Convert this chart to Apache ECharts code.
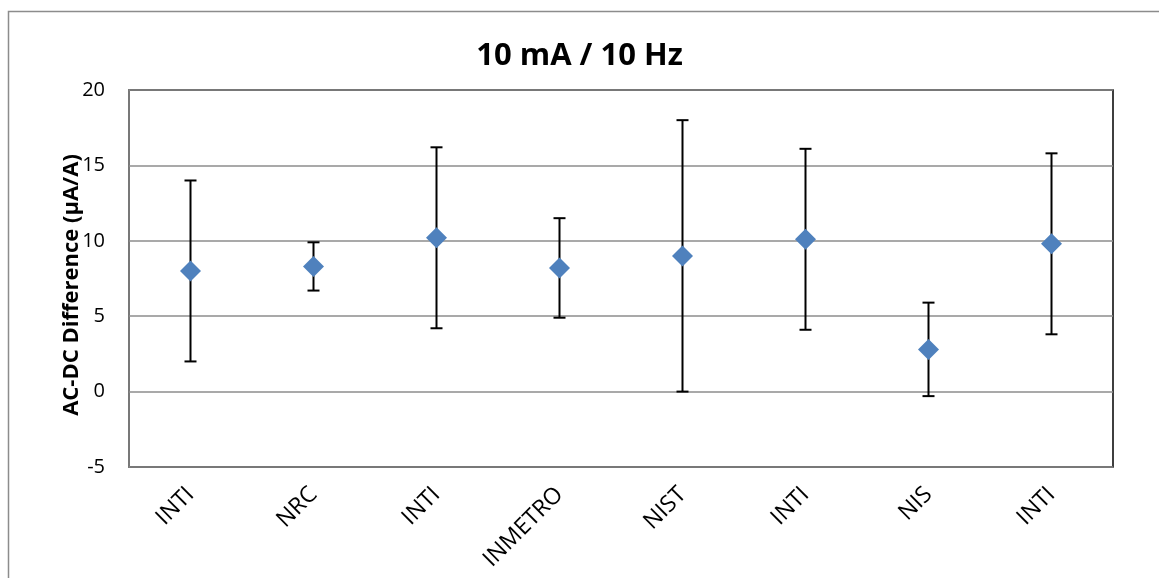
<!DOCTYPE html>
<html><head><meta charset="utf-8">
<script src="https://cdn.jsdelivr.net/npm/echarts@6/dist/echarts.min.js"></script>
<style>html,body{margin:0;padding:0;background:#fff}#c{width:1159px;height:578px}</style>
</head><body><div id="c"></div>
<script>
const categories = ['INTI','NRC','INTI','INMETRO','NIST','INTI','NIS','INTI'];
const values = [8.0, 8.3, 10.2, 8.2, 9.0, 10.1, 2.8, 9.8];
const errLow = [2.0, 6.7, 4.2, 4.9, 0.0, 4.1, -0.3, 3.8];
const errHigh = [14.0, 9.9, 16.2, 11.5, 18.0, 16.1, 5.9, 15.8];
const yTicks = [-5, 0, 5, 10, 15, 20];
const yAxisTitle = 'AC-DC Difference (µA/A)';

const errData = categories.map((c, i) => [i, errLow[i], errHigh[i]]);
const FONT = '"Open Sans", "Noto Sans", sans-serif';
const chart = echarts.init(document.getElementById('c'));
chart.setOption({
  animation: false,
  backgroundColor: '#fff',
  graphic: [
    {type: 'rect', shape: {x: 8.5, y: 11.5, width: 1300, height: 700}, style: {fill: 'none', stroke: '#8c8c8c', lineWidth: 1.5}, silent: true},
    {type: 'text', x: 72, y: 285, rotation: Math.PI / 2, silent: true,
     style: {text: yAxisTitle, fontFamily: FONT, fontWeight: 'bold', fontSize: 22, fill: '#000', align: 'center', verticalAlign: 'middle'}}
  ],
  title: {text: '10 mA / 10 Hz', left: 'center', top: 36, textStyle: {fontFamily: FONT, fontWeight: 'bold', fontSize: 31, color: '#000'}},
  grid: {left: 129, right: 46, top: 90, bottom: 111, show: true, borderColor: '#000', borderWidth: 1.5, backgroundColor: 'transparent'},
  xAxis: {
    type: 'category', data: categories,
    axisLine: {show: false}, axisTick: {show: false},
    axisLabel: {rotate: 45, fontFamily: FONT, fontSize: 23, color: '#000', margin: 24, interval: 0}
  },
  yAxis: {
    type: 'value', min: yTicks[0], max: yTicks[yTicks.length - 1], interval: 5,
    axisLine: {show: true, lineStyle: {color: '#8c8c8c', width: 1.5}},
    axisTick: {show: false},
    axisLabel: {fontFamily: FONT, fontSize: 20, color: '#000', margin: 24},
    splitLine: {lineStyle: {color: '#8c8c8c', width: 1.5}}
  },
  series: [
    {
      type: 'custom', data: errData, z: 2,
      renderItem: function (params, api) {
        const x = api.value(0);
        const lo = api.coord([x, api.value(1)]);
        const hi = api.coord([x, api.value(2)]);
        const cap = 6;
        const st = {stroke: '#000', lineWidth: 2};
        return {type: 'group', children: [
          {type: 'line', shape: {x1: lo[0], y1: lo[1], x2: hi[0], y2: hi[1]}, style: st},
          {type: 'line', shape: {x1: lo[0] - cap, y1: lo[1], x2: lo[0] + cap, y2: lo[1]}, style: st},
          {type: 'line', shape: {x1: hi[0] - cap, y1: hi[1], x2: hi[0] + cap, y2: hi[1]}, style: st}
        ]};
      }
    },
    {
      type: 'scatter', data: values, symbol: 'diamond', symbolSize: 21, z: 3,
      itemStyle: {color: '#4F81BD', opacity: 1}
    }
  ]
});
</script></body></html>
